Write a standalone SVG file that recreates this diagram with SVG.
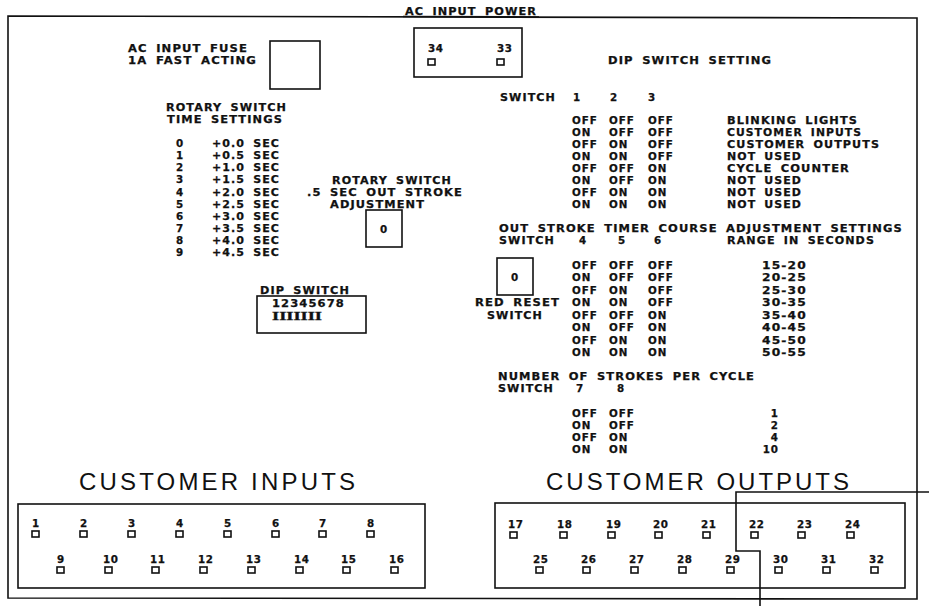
<svg xmlns="http://www.w3.org/2000/svg" width="929" height="608" viewBox="0 0 929 608">
<style>
.ln{fill:none;stroke:#111;stroke-width:1.6}
.pin{fill:none;stroke:#111;stroke-width:1.6}
.t,.n{font-family:"DejaVu Sans","Liberation Sans",sans-serif;font-weight:bold;font-size:10.3px;letter-spacing:1px;word-spacing:3px;fill:#111;stroke:#111;stroke-width:0.25}
.n{letter-spacing:0.6px}
.ser{font-family:"Liberation Serif","DejaVu Serif",serif;font-weight:bold;font-size:11.5px;letter-spacing:0;fill:#111;stroke:#111;stroke-width:0.3}
.big{font-family:"Liberation Sans","DejaVu Sans",sans-serif;font-size:24px;fill:#111}
</style>
<rect width="929" height="608" fill="#fff"/>
<g id="border">
<polygon class="ln" points="8,16 917,18 917,599 8,598"/>
<rect x="403" y="3" width="136" height="13" fill="#fff"/>
<text class="t" x="405" y="15" textLength="132" lengthAdjust="spacingAndGlyphs">AC INPUT POWER</text>
<line class="ln" x1="403" y1="16.5" x2="539" y2="17"/>
</g>
<g id="fuse">
<text class="t" x="128" y="52" textLength="120" lengthAdjust="spacingAndGlyphs">AC INPUT FUSE</text>
<text class="t" x="128" y="64" textLength="129" lengthAdjust="spacingAndGlyphs">1A FAST ACTING</text>
<rect class="ln" x="270" y="41" width="50" height="48"/>
</g>
<g id="ac-terminals">
<rect class="ln" x="414" y="28" width="108" height="49"/>
<text class="n" x="428" y="52">34</text><rect class="pin" x="428" y="59" width="7" height="6"/>
<text class="n" x="497" y="52">33</text><rect class="pin" x="497" y="59" width="7" height="6"/>
</g>
<g id="rotary-table">
<text class="t" x="166" y="111" textLength="121" lengthAdjust="spacingAndGlyphs">ROTARY SWITCH</text>
<text class="t" x="167" y="123" textLength="116" lengthAdjust="spacingAndGlyphs">TIME SETTINGS</text>
<text class="t" x="176" y="147">0</text><text class="t" x="212" y="147" textLength="68" lengthAdjust="spacingAndGlyphs">+0.0 SEC</text>
<text class="t" x="176" y="159">1</text><text class="t" x="212" y="159" textLength="68" lengthAdjust="spacingAndGlyphs">+0.5 SEC</text>
<text class="t" x="176" y="171">2</text><text class="t" x="212" y="171" textLength="68" lengthAdjust="spacingAndGlyphs">+1.0 SEC</text>
<text class="t" x="176" y="183">3</text><text class="t" x="212" y="183" textLength="68" lengthAdjust="spacingAndGlyphs">+1.5 SEC</text>
<text class="t" x="176" y="196">4</text><text class="t" x="212" y="196" textLength="68" lengthAdjust="spacingAndGlyphs">+2.0 SEC</text>
<text class="t" x="176" y="208">5</text><text class="t" x="212" y="208" textLength="68" lengthAdjust="spacingAndGlyphs">+2.5 SEC</text>
<text class="t" x="176" y="220">6</text><text class="t" x="212" y="220" textLength="68" lengthAdjust="spacingAndGlyphs">+3.0 SEC</text>
<text class="t" x="176" y="232">7</text><text class="t" x="212" y="232" textLength="68" lengthAdjust="spacingAndGlyphs">+3.5 SEC</text>
<text class="t" x="176" y="244">8</text><text class="t" x="212" y="244" textLength="68" lengthAdjust="spacingAndGlyphs">+4.0 SEC</text>
<text class="t" x="176" y="256">9</text><text class="t" x="212" y="256" textLength="68" lengthAdjust="spacingAndGlyphs">+4.5 SEC</text>
</g>
<g id="rotary-switch">
<text class="t" x="332" y="184" textLength="120" lengthAdjust="spacingAndGlyphs">ROTARY SWITCH</text>
<text class="t" x="307" y="196" textLength="156" lengthAdjust="spacingAndGlyphs">.5 SEC OUT STROKE</text>
<text class="t" x="330" y="208" textLength="95" lengthAdjust="spacingAndGlyphs">ADJUSTMENT</text>
<rect class="ln" x="366" y="210" width="36" height="37"/>
<text class="t" x="384" y="233" text-anchor="middle">0</text>
</g>
<g id="dip-switch">
<text class="t" x="260" y="294" textLength="90" lengthAdjust="spacingAndGlyphs">DIP SWITCH</text>
<rect class="ln" x="257" y="296" width="109" height="37"/>
<text class="t" x="272" y="307" textLength="73" lengthAdjust="spacingAndGlyphs">12345678</text>
<text class="ser" x="272" y="319.5" textLength="50" lengthAdjust="spacingAndGlyphs">IIIIIII</text>
</g>
<g id="dip-setting-table">
<text class="t" x="608" y="64" textLength="164" lengthAdjust="spacingAndGlyphs">DIP SWITCH SETTING</text>
<text class="t" x="500" y="101" textLength="56" lengthAdjust="spacingAndGlyphs">SWITCH</text>
<text class="t" x="573" y="101">1</text><text class="t" x="610" y="101">2</text><text class="t" x="648" y="101">3</text>
<text class="t" x="572" y="124">OFF</text><text class="t" x="609" y="124">OFF</text><text class="t" x="648" y="124">OFF</text><text class="t" x="727" y="124" textLength="131" lengthAdjust="spacingAndGlyphs">BLINKING LIGHTS</text>
<text class="t" x="572" y="136">ON</text><text class="t" x="609" y="136">OFF</text><text class="t" x="648" y="136">OFF</text><text class="t" x="727" y="136" textLength="135" lengthAdjust="spacingAndGlyphs">CUSTOMER INPUTS</text>
<text class="t" x="572" y="148">OFF</text><text class="t" x="609" y="148">ON</text><text class="t" x="648" y="148">OFF</text><text class="t" x="727" y="148" textLength="153" lengthAdjust="spacingAndGlyphs">CUSTOMER OUTPUTS</text>
<text class="t" x="572" y="160">ON</text><text class="t" x="609" y="160">ON</text><text class="t" x="648" y="160">OFF</text><text class="t" x="727" y="160" textLength="75" lengthAdjust="spacingAndGlyphs">NOT USED</text>
<text class="t" x="572" y="172">OFF</text><text class="t" x="609" y="172">OFF</text><text class="t" x="648" y="172">ON</text><text class="t" x="727" y="172" textLength="123" lengthAdjust="spacingAndGlyphs">CYCLE COUNTER</text>
<text class="t" x="572" y="184">ON</text><text class="t" x="609" y="184">OFF</text><text class="t" x="648" y="184">ON</text><text class="t" x="727" y="184" textLength="75" lengthAdjust="spacingAndGlyphs">NOT USED</text>
<text class="t" x="572" y="196">OFF</text><text class="t" x="609" y="196">ON</text><text class="t" x="648" y="196">ON</text><text class="t" x="727" y="196" textLength="75" lengthAdjust="spacingAndGlyphs">NOT USED</text>
<text class="t" x="572" y="208">ON</text><text class="t" x="609" y="208">ON</text><text class="t" x="648" y="208">ON</text><text class="t" x="727" y="208" textLength="75" lengthAdjust="spacingAndGlyphs">NOT USED</text>
</g>
<g id="out-stroke-table">
<text class="t" x="499" y="232" textLength="404" lengthAdjust="spacingAndGlyphs">OUT STROKE TIMER COURSE ADJUSTMENT SETTINGS</text>
<text class="t" x="499" y="244" textLength="56" lengthAdjust="spacingAndGlyphs">SWITCH</text>
<text class="t" x="579" y="244">4</text><text class="t" x="618" y="244">5</text><text class="t" x="654" y="244">6</text>
<text class="t" x="727" y="244" textLength="148" lengthAdjust="spacingAndGlyphs">RANGE IN SECONDS</text>
<text class="t" x="572" y="269">OFF</text><text class="t" x="609" y="269">OFF</text><text class="t" x="648" y="269">OFF</text><text class="t" x="762" y="269" textLength="45" lengthAdjust="spacingAndGlyphs">15-20</text>
<text class="t" x="572" y="281">ON</text><text class="t" x="609" y="281">OFF</text><text class="t" x="648" y="281">OFF</text><text class="t" x="762" y="281" textLength="45" lengthAdjust="spacingAndGlyphs">20-25</text>
<text class="t" x="572" y="294">OFF</text><text class="t" x="609" y="294">ON</text><text class="t" x="648" y="294">OFF</text><text class="t" x="762" y="294" textLength="45" lengthAdjust="spacingAndGlyphs">25-30</text>
<text class="t" x="572" y="306">ON</text><text class="t" x="609" y="306">ON</text><text class="t" x="648" y="306">OFF</text><text class="t" x="762" y="306" textLength="45" lengthAdjust="spacingAndGlyphs">30-35</text>
<text class="t" x="572" y="319">OFF</text><text class="t" x="609" y="319">OFF</text><text class="t" x="648" y="319">ON</text><text class="t" x="762" y="319" textLength="45" lengthAdjust="spacingAndGlyphs">35-40</text>
<text class="t" x="572" y="331">ON</text><text class="t" x="609" y="331">OFF</text><text class="t" x="648" y="331">ON</text><text class="t" x="762" y="331" textLength="45" lengthAdjust="spacingAndGlyphs">40-45</text>
<text class="t" x="572" y="344">OFF</text><text class="t" x="609" y="344">ON</text><text class="t" x="648" y="344">ON</text><text class="t" x="762" y="344" textLength="45" lengthAdjust="spacingAndGlyphs">45-50</text>
<text class="t" x="572" y="356">ON</text><text class="t" x="609" y="356">ON</text><text class="t" x="648" y="356">ON</text><text class="t" x="762" y="356" textLength="45" lengthAdjust="spacingAndGlyphs">50-55</text>
</g>
<g id="red-reset-switch">
<rect class="ln" x="497" y="258" width="36" height="37"/>
<text class="t" x="515" y="281" text-anchor="middle">0</text>
<text class="t" x="475" y="306" textLength="85" lengthAdjust="spacingAndGlyphs">RED RESET</text>
<text class="t" x="487" y="319" textLength="56" lengthAdjust="spacingAndGlyphs">SWITCH</text>
</g>
<g id="strokes-table">
<text class="t" x="498" y="380" textLength="257" lengthAdjust="spacingAndGlyphs">NUMBER OF STROKES PER CYCLE</text>
<text class="t" x="498" y="392" textLength="56" lengthAdjust="spacingAndGlyphs">SWITCH</text>
<text class="t" x="576" y="392">7</text><text class="t" x="617" y="392">8</text>
<text class="t" x="572" y="417">OFF</text><text class="t" x="609" y="417">OFF</text><text class="t" x="779" y="417" text-anchor="end">1</text>
<text class="t" x="572" y="429">ON</text><text class="t" x="609" y="429">OFF</text><text class="t" x="779" y="429" text-anchor="end">2</text>
<text class="t" x="572" y="441">OFF</text><text class="t" x="609" y="441">ON</text><text class="t" x="779" y="441" text-anchor="end">4</text>
<text class="t" x="572" y="453">ON</text><text class="t" x="609" y="453">ON</text><text class="t" x="779" y="453" text-anchor="end">10</text>
</g>
<g id="customer-inputs">
<text class="big" x="79" y="490" textLength="276" lengthAdjust="spacing">CUSTOMER INPUTS</text>
<rect class="ln" x="18" y="504" width="407" height="84"/>
<g class="n">
<text x="32" y="527">1</text><text x="80" y="527">2</text><text x="128" y="527">3</text><text x="176" y="527">4</text><text x="224" y="527">5</text><text x="272" y="527">6</text><text x="319" y="527">7</text><text x="367" y="527">8</text>
<text x="57" y="563">9</text><text x="103" y="563">10</text><text x="150" y="563">11</text><text x="198" y="563">12</text><text x="246" y="563">13</text><text x="294" y="563">14</text><text x="341" y="563">15</text><text x="389" y="563">16</text>
</g>
<rect class="pin" x="32" y="531" width="7" height="6"/><rect class="pin" x="80" y="531" width="7" height="6"/><rect class="pin" x="128" y="531" width="7" height="6"/><rect class="pin" x="176" y="531" width="7" height="6"/><rect class="pin" x="224" y="531" width="7" height="6"/><rect class="pin" x="272" y="531" width="7" height="6"/><rect class="pin" x="319" y="531" width="7" height="6"/><rect class="pin" x="367" y="531" width="7" height="6"/>
<rect class="pin" x="57" y="567" width="7" height="6"/><rect class="pin" x="105" y="567" width="7" height="6"/><rect class="pin" x="152" y="567" width="7" height="6"/><rect class="pin" x="200" y="567" width="7" height="6"/><rect class="pin" x="248" y="567" width="7" height="6"/><rect class="pin" x="296" y="567" width="7" height="6"/><rect class="pin" x="343" y="567" width="7" height="6"/><rect class="pin" x="391" y="567" width="7" height="6"/>
</g>
<g id="customer-outputs">
<text class="big" x="546" y="490" textLength="303" lengthAdjust="spacing">CUSTOMER OUTPUTS</text>
<rect class="ln" x="495" y="503" width="410" height="85"/>
<g class="n">
<text x="508" y="528">17</text><text x="557" y="528">18</text><text x="606" y="528">19</text><text x="653" y="528">20</text><text x="701" y="528">21</text><text x="749" y="528">22</text><text x="797" y="528">23</text><text x="845" y="528">24</text>
<text x="533" y="563">25</text><text x="581" y="563">26</text><text x="629" y="563">27</text><text x="677" y="563">28</text><text x="725" y="563">29</text><text x="773" y="563">30</text><text x="821" y="563">31</text><text x="869" y="563">32</text>
</g>
<rect class="pin" x="510" y="532" width="7" height="6"/><rect class="pin" x="560" y="532" width="7" height="6"/><rect class="pin" x="608" y="532" width="7" height="6"/><rect class="pin" x="655" y="532" width="7" height="6"/><rect class="pin" x="703" y="532" width="7" height="6"/><rect class="pin" x="751" y="532" width="7" height="6"/><rect class="pin" x="798" y="532" width="7" height="6"/><rect class="pin" x="847" y="532" width="7" height="6"/>
<rect class="pin" x="536" y="567" width="7" height="6"/><rect class="pin" x="583" y="567" width="7" height="6"/><rect class="pin" x="631" y="567" width="7" height="6"/><rect class="pin" x="679" y="567" width="7" height="6"/><rect class="pin" x="727" y="567" width="7" height="6"/><rect class="pin" x="775" y="567" width="7" height="6"/><rect class="pin" x="823" y="567" width="7" height="6"/><rect class="pin" x="871" y="567" width="7" height="6"/>
</g>
<g id="connectors">
<polyline class="ln" points="929,492 736,492 736,551 760,551 760,606"/>
</g>
</svg>
